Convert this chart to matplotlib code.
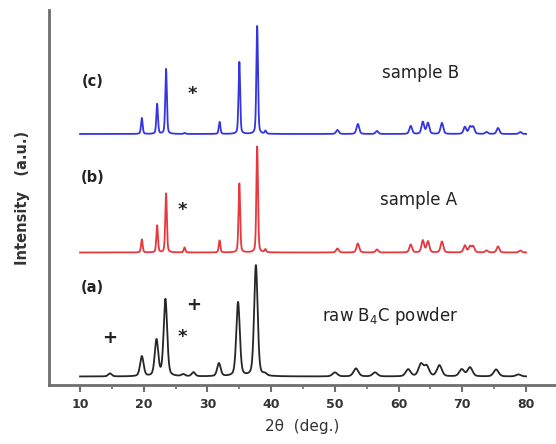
import numpy as np
import matplotlib
matplotlib.use("Agg")
import matplotlib.pyplot as plt

# ---- data: peak positions (2theta, deg) and heights (a.u.) ----
raw_pos = [14.7, 19.7, 22.0, 23.4, 26.2, 27.8, 31.8, 34.8, 37.6, 39.0,
           50.0, 53.3, 56.3, 61.5, 63.5, 64.4, 66.4, 69.9, 71.2, 75.3, 78.8]
raw_h = [3, 20, 36, 77, 2, 4, 13, 74, 111, 2,
         4, 8, 4, 7, 12, 10, 11, 7, 9, 7, 2]

a_pos = [19.7, 22.1, 23.5, 26.4, 31.9, 35.0, 37.8, 39.1,
         50.4, 53.6, 56.6, 61.9, 63.8, 64.6, 66.8, 70.4, 71.2, 71.7, 73.8, 75.6, 79.1]
a_h = [13, 27, 59, 5, 12, 69, 106, 3,
       4, 9, 3, 8, 12, 11, 11, 7, 6, 6, 2, 6, 2]

b_pos = [19.7, 22.1, 23.5, 26.4, 31.9, 35.0, 37.8, 39.1,
         50.4, 53.6, 56.6, 61.9, 63.8, 64.6, 66.8, 70.4, 71.2, 71.7, 73.8, 75.6, 79.1]
b_h = [16, 30, 65, 1, 12, 72, 108, 3,
       4, 10, 3, 8, 12, 11, 11, 7, 7, 7, 2, 6, 2]

offsets = {"a": 8.5, "b": 132.5, "c": 251.0}

def pattern(x, pos, hts, fwhm):
    y = np.zeros_like(x)
    for p, h in zip(pos, hts):
        w = fwhm(p) / 2.0
        lor = 1.0 / (1.0 + ((x - p) / w) ** 2)
        gau = np.exp(-np.log(2) * ((x - p) / w) ** 2)
        y += h * (0.35 * lor + 0.65 * gau)
    return y

x = np.linspace(10, 80, 7001)
y_raw = pattern(x, raw_pos, raw_h, lambda p: 0.65 if p < 45 else 0.9)
y_a = pattern(x, a_pos, a_h, lambda p: 0.3 if p < 45 else 0.5)
y_b = pattern(x, b_pos, b_h, lambda p: 0.3 if p < 45 else 0.5)

fig = plt.figure(figsize=(5.56, 4.44), dpi=100)
ax = fig.add_axes([49/556, 1-385/444, 1-49/556, 375/444])

ax.plot(x, y_raw + offsets["a"], color="#262626", lw=1.3)
ax.plot(x, y_a + offsets["b"], color="#e8383d", lw=1.3)
ax.plot(x, y_b + offsets["c"], color="#3535e0", lw=1.3)

ax.set_xlim(5.13, 84.7)
ax.set_ylim(0, 375)

gray = "#6e6e6e"
for s in ["top", "right"]:
    ax.spines[s].set_visible(False)
for s in ["left", "bottom"]:
    ax.spines[s].set_color(gray)
    ax.spines[s].set_linewidth(2)

ax.set_xticks(np.arange(10, 81, 10))
ax.set_xticks(np.arange(15, 80, 10), minor=True)
ax.set_yticks([])
ax.tick_params(axis="x", which="major", direction="out", length=5, width=1.5,
               color=gray, labelsize=9, labelcolor="#333333", pad=4)
ax.tick_params(axis="x", which="minor", direction="out", length=3, width=1.2, color=gray)
for lab in ax.get_xticklabels():
    lab.set_fontweight("bold")

ax.set_xlabel("2θ  (deg.)", fontsize=11, color="#333333", labelpad=6)
ax.set_ylabel("Intensity   (a.u.)", fontsize=10.5, color="#333333", labelpad=14,
              fontweight="bold")

tk = dict(fontsize=10.5, fontweight="bold", color="#222222", ha="center", va="center")
ax.text(12.0, 303, "(c)", **tk)
ax.text(12.0, 208, "(b)", **tk)
ax.text(12.0, 97, "(a)", **tk)

lk = dict(fontsize=12, color="#222222", ha="center", va="center")
ax.text(63.4, 312, "sample B", **lk)
ax.text(63.1, 185, "sample A", **lk)
ax.text(58.7, 69, "raw B$_4$C powder", **lk)

mk = dict(fontsize=13, color="#222222", ha="center", va="center", fontweight="bold")
ax.text(27.7, 291, "*", **mk)
ax.text(26.0, 175, "*", **mk)
ax.text(26.0, 48, "*", **mk)
ax.text(14.7, 47, "+", **mk)
ax.text(27.9, 80, "+", **mk)

fig.savefig("out.png", dpi=100)
